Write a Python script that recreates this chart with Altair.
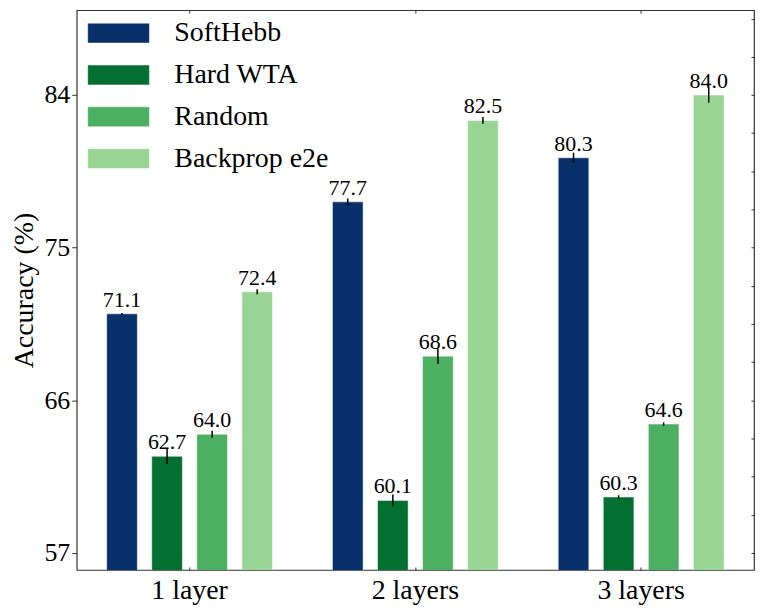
import altair as alt
import pandas as pd

groups = ["1 layer", "2 layers", "3 layers"]
methods = ["SoftHebb", "Hard WTA", "Random", "Backprop e2e"]
softhebb = [71.1, 77.7, 80.3]
hard_wta = [62.7, 60.1, 60.3]
random_init = [64.0, 68.6, 64.6]
backprop = [72.4, 82.5, 84.0]
softhebb_err = [0.05, 0.2, 0.3]
hard_wta_err = [0.45, 0.35, 0.1]
random_err = [0.2, 0.45, 0.1]
backprop_err = [0.15, 0.2, 0.45]
colors = ["#08306b", "#037031", "#4caf62", "#98d594"]
y_ticks = [57, 66, 75, 84]
y_minor = [57 + 2.25 * i for i in range(15)]

FONT = "Liberation Serif"

rows = []
for m, vals, errs in [
    ("SoftHebb", softhebb, softhebb_err),
    ("Hard WTA", hard_wta, hard_wta_err),
    ("Random", random_init, random_err),
    ("Backprop e2e", backprop, backprop_err),
]:
    for g, v, e in zip(groups, vals, errs):
        rows.append({"group": g, "method": m, "value": v, "lo": v - e, "hi": v + e})
df = pd.DataFrame(rows)

yscale = alt.Scale(domain=[56, 89], zero=False, nice=False)
xscale = alt.Scale(paddingInner=0, paddingOuter=0)

base = alt.Chart(df).encode(
    xOffset=alt.XOffset(
        "method:N", sort=methods,
        scale=alt.Scale(paddingInner=0.32, paddingOuter=0.665),
    )
)

bars = base.mark_bar(clip=True, stroke="white", strokeOpacity=0.5, strokeWidth=1).encode(
    x=alt.X(
        "group:N", sort=groups, scale=xscale, title=None,
        axis=alt.Axis(
            orient="bottom", labelAngle=0, domain=False, offset=-3, tickSize=3,
            tickColor="#333", labelPadding=7, labelFontSize=28, labelFont=FONT,
            labelColor="black",
        ),
    ),
    y=alt.Y(
        "value:Q", scale=yscale, title="Accuracy (%)",
        axis=alt.Axis(
            orient="left", values=y_ticks, domain=False, grid=False, tickSize=5,
            tickColor="#333", labelPadding=2, labelFontSize=26, labelFont=FONT,
            labelColor="black", titleFont=FONT, titleFontSize=28,
            titleFontWeight="normal", titleColor="black", titlePadding=5,
        ),
    ),
    color=alt.Color(
        "method:N", sort=methods,
        scale=alt.Scale(domain=methods, range=colors),
        legend=alt.Legend(
            title=None, orient="none", legendX=28, legendY=9,
            symbolType="M-3.1,-1H3.1V1H-3.1Z", symbolSize=400,
            symbolStrokeColor="white", symbolStrokeWidth=0.5,
            symbolOpacity=1,
            labelFont=FONT, labelFontSize=28, labelColor="black",
            labelOffset=42, rowPadding=14, padding=0,
        ),
    ),
)

errs = base.mark_rule(color="black", strokeWidth=1.5).encode(
    x=alt.X(
        "group:N", sort=groups, scale=xscale, title=None,
        axis=alt.Axis(
            orient="top", labels=False, domain=False, offset=-3, tickSize=3,
            tickColor="#333",
        ),
    ),
    y=alt.Y(
        "lo:Q", scale=yscale, title=None,
        axis=alt.Axis(
            orient="right", values=y_minor, labels=False, domain=False, grid=False,
            offset=-3, tickSize=3, tickColor="#333",
        ),
    ),
    y2="hi:Q",
)

labels = base.mark_text(
    dy=-7, baseline="alphabetic", fontSize=22, font=FONT, color="black"
).encode(
    x=alt.X("group:N", sort=groups, scale=xscale, axis=None),
    y=alt.Y("value:Q", scale=yscale, axis=None),
    text=alt.Text("value:Q", format=".1f"),
)

chart = (
    alt.layer(bars, errs, labels)
    .resolve_axis(x="independent", y="independent")
    .resolve_scale(x="shared", y="shared")
    .properties(width=680, height=562, padding={"left": 3, "top": 0, "right": 0, "bottom": 0})
    .configure_view(stroke="#333", strokeWidth=1.2)
)

chart.save("out.html", embed_options={"renderer": "svg", "actions": False})
